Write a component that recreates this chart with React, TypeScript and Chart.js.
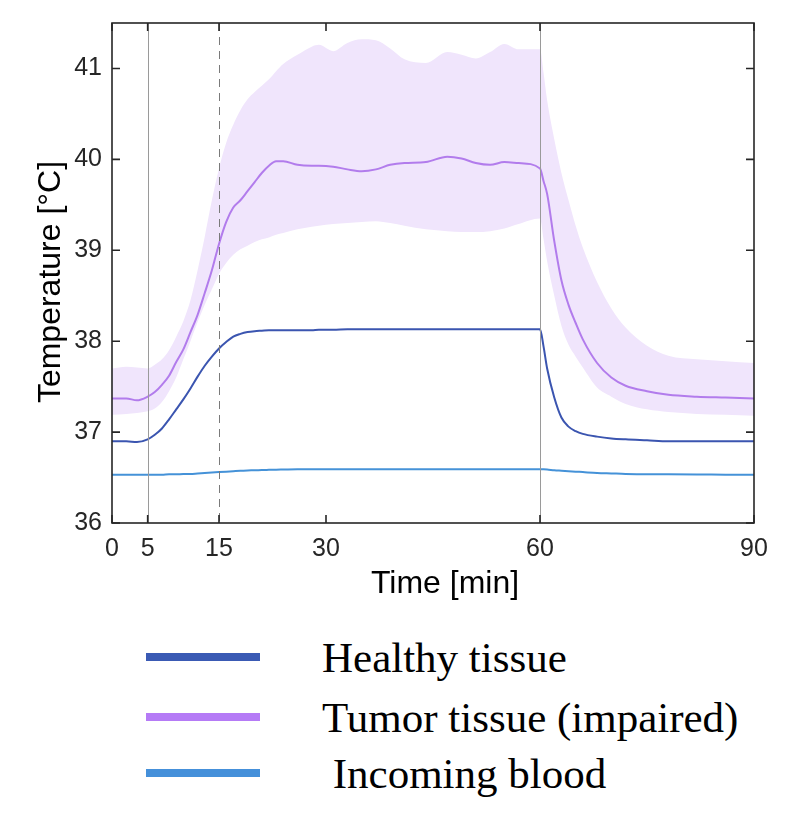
import { useEffect, useRef } from "react";
import { Chart, registerables } from "chart.js";

Chart.register(...registerables);

// time axis [min]
const timeMin = [
  0, 2, 3.5, 5, 6, 7, 8, 9, 10, 11, 12, 13, 14, 15, 16, 17, 18, 19, 20, 21, 22, 23, 24,
  26, 28, 29, 31, 33, 35, 37, 39, 41, 44, 47, 49, 51, 53, 55, 57, 60,
  60.5, 61, 62, 63, 64, 65, 66, 68, 70, 72, 75, 78, 82, 86, 90,
];

const healthyTissue = [
  36.9, 36.9, 36.89, 36.92, 36.97, 37.04, 37.14, 37.25, 37.36, 37.48, 37.61, 37.73, 37.83, 37.92,
  37.99, 38.05, 38.08, 38.1, 38.11, 38.115, 38.12, 38.12, 38.12,
  38.12, 38.12, 38.125, 38.125, 38.13, 38.13, 38.13, 38.13, 38.13, 38.13, 38.13, 38.13, 38.13,
  38.13, 38.13, 38.13, 38.13,
  37.94, 37.7, 37.38, 37.16, 37.06, 37.01, 36.98, 36.95, 36.93, 36.92, 36.91, 36.9, 36.9, 36.9, 36.9,
];

const tumorMean = [
  37.37, 37.37, 37.35, 37.39, 37.44, 37.52, 37.62, 37.77, 37.91, 38.1, 38.29, 38.53, 38.78, 39.07,
  39.31, 39.47, 39.55, 39.65, 39.75, 39.85, 39.93, 39.98, 39.98,
  39.94, 39.93, 39.93, 39.92, 39.89, 39.87, 39.89, 39.94, 39.96, 39.97, 40.03, 40.01, 39.96,
  39.94, 39.97, 39.96, 39.9,
  39.76, 39.62, 39.1, 38.67, 38.4, 38.2, 38.02, 37.76, 37.6, 37.51, 37.45, 37.41, 37.39, 37.38, 37.37,
];

const tumorUpper = [
  37.7, 37.72, 37.71, 37.7, 37.74, 37.8, 37.9, 38.05, 38.22, 38.45, 38.78, 39.15, 39.55, 39.9,
  40.18, 40.38, 40.54, 40.66, 40.74, 40.81, 40.88, 40.97, 41.05,
  41.15, 41.24, 41.26, 41.19, 41.28, 41.32, 41.31, 41.22, 41.1, 41.06, 41.18, 41.15, 41.11,
  41.18, 41.27, 41.21, 41.21,
  40.95, 40.65, 40.22, 39.85, 39.55, 39.27, 39.03, 38.65, 38.36, 38.15, 37.95, 37.84, 37.8, 37.78, 37.76,
];

const tumorLower = [
  37.19, 37.2, 37.21, 37.23, 37.26, 37.33, 37.45, 37.6, 37.8, 38.0, 38.21, 38.4, 38.57, 38.74,
  38.86, 38.95, 39.01, 39.05, 39.09, 39.12, 39.14, 39.17, 39.19,
  39.23, 39.26, 39.27, 39.29, 39.3, 39.31, 39.32, 39.3, 39.27, 39.23, 39.21, 39.2, 39.2,
  39.21, 39.24, 39.29, 39.35,
  39.12, 38.88, 38.5, 38.17, 37.96, 37.83, 37.71, 37.49, 37.39, 37.31, 37.25, 37.22, 37.2, 37.19, 37.18,
];

const incomingBlood = [
  36.53, 36.53, 36.53, 36.53, 36.53, 36.53, 36.535, 36.535, 36.54, 36.54, 36.545, 36.55, 36.555, 36.56,
  36.565, 36.57, 36.575, 36.578, 36.58, 36.583, 36.585, 36.587, 36.588,
  36.59, 36.59, 36.59, 36.59, 36.59, 36.59, 36.59, 36.59, 36.59, 36.59, 36.59, 36.59, 36.59,
  36.59, 36.59, 36.59, 36.59,
  36.59, 36.588, 36.58, 36.575, 36.57, 36.565, 36.56, 36.55, 36.545, 36.54, 36.537, 36.535, 36.533, 36.532, 36.53,
];

const xTicks = [0, 5, 15, 30, 60, 90];
const yTicks = [36, 37, 38, 39, 40, 41];
const phaseLines = [5, 15, 60];
const dashedPhase = 15;
const xTitle = "Time [min]";
const yTitle = "Temperature [°C]";

const legendItems = [
  { label: "Healthy tissue", color: "#3a5ab4" },
  { label: "Tumor tissue (impaired)", color: "#b57bf6" },
  { label: " Incoming blood", color: "#4590da" },
];

const sansFont = "'Liberation Sans', Arial, Helvetica, sans-serif";
const serifFont = "'Liberation Serif', 'Times New Roman', serif";

const toPoints = (values: number[]) => timeMin.map((t, i) => ({ x: t, y: values[i] }));

// box, inward ticks, phase markers and axis titles, the MATLAB way
const framePlugin = {
  id: "frame",
  afterDatasetsDraw(chart: any) {
    const { ctx, chartArea: a, scales } = chart;
    const xs = scales.x;
    const ys = scales.y;
    ctx.save();
    ctx.lineWidth = 1;
    for (const t of phaseLines) {
      const px = Math.round(xs.getPixelForValue(t)) + 0.5;
      ctx.strokeStyle = t === dashedPhase ? "#7a7a7a" : "#9a9a9a";
      ctx.setLineDash(t === dashedPhase ? [8, 6] : []);
      ctx.beginPath();
      ctx.moveTo(px, a.top);
      ctx.lineTo(px, a.bottom);
      ctx.stroke();
    }
    ctx.setLineDash([]);
    ctx.strokeStyle = "#262626";
    ctx.lineWidth = 1.6;
    ctx.strokeRect(a.left, a.top, a.right - a.left, a.bottom - a.top);
    const tl = 8;
    ctx.beginPath();
    for (const t of xTicks) {
      const px = xs.getPixelForValue(t);
      ctx.moveTo(px, a.bottom);
      ctx.lineTo(px, a.bottom - tl);
      ctx.moveTo(px, a.top);
      ctx.lineTo(px, a.top + tl);
    }
    for (const v of yTicks) {
      const py = ys.getPixelForValue(v);
      ctx.moveTo(a.left, py);
      ctx.lineTo(a.left + tl, py);
      ctx.moveTo(a.right, py);
      ctx.lineTo(a.right - tl, py);
    }
    ctx.stroke();

    ctx.fillStyle = "#000";
    ctx.font = `32px ${sansFont}`;
    ctx.textAlign = "center";
    ctx.textBaseline = "middle";
    ctx.fillText(xTitle, (a.left + a.right) / 2 + 12, a.bottom + 61);
    ctx.translate(51, (a.top + a.bottom) / 2 + 9);
    ctx.rotate(-Math.PI / 2);
    ctx.fillText(yTitle, 0, 0);
    ctx.restore();
  },
};

function TemperatureChart() {
  const canvasRef = useRef<HTMLCanvasElement | null>(null);

  useEffect(() => {
    if (!canvasRef.current) return;

    const chart = new Chart(canvasRef.current, {
      type: "line",
      data: {
        datasets: [
          {
            label: "Incoming blood",
            data: toPoints(incomingBlood),
            borderColor: "#4592d8",
            borderWidth: 2,
            pointRadius: 0,
            fill: false,
          },
          {
            label: "Healthy tissue",
            data: toPoints(healthyTissue),
            borderColor: "#3b55b0",
            borderWidth: 2,
            pointRadius: 0,
            fill: false,
          },
          {
            label: "Tumor tissue (impaired)",
            data: toPoints(tumorMean),
            borderColor: "#b27cec",
            borderWidth: 2,
            pointRadius: 0,
            fill: false,
          },
          {
            label: "upper",
            data: toPoints(tumorUpper),
            borderWidth: 0,
            borderColor: "rgba(0,0,0,0)",
            backgroundColor: "#f0e5fc",
            pointRadius: 0,
            fill: "+1",
          },
          {
            label: "lower",
            data: toPoints(tumorLower),
            borderWidth: 0,
            borderColor: "rgba(0,0,0,0)",
            pointRadius: 0,
            fill: false,
          },
        ],
      },
      options: {
        responsive: false,
        animation: false,
        cubicInterpolationMode: "monotone",
        layout: { padding: { top: 23, right: 54, left: 0, bottom: 0 } },
        plugins: { legend: { display: false }, tooltip: { enabled: false } },
        scales: {
          x: {
            type: "linear",
            min: 0,
            max: 90,
            afterBuildTicks: (s: any) => {
              s.ticks = xTicks.map((v) => ({ value: v }));
            },
            afterFit: (s: any) => {
              s.height = 93;
              s.paddingLeft = 0;
              s.paddingRight = 0;
            },
            grid: { display: false, drawTicks: false },
            border: { display: false },
            ticks: {
              autoSkip: false,
              maxRotation: 0,
              padding: 11,
              color: "#262626",
              font: { family: sansFont, size: 25 },
            },
          },
          y: {
            type: "linear",
            min: 36,
            max: 41.5,
            afterBuildTicks: (s: any) => {
              s.ticks = yTicks.map((v) => ({ value: v }));
            },
            afterFit: (s: any) => {
              s.width = 112;
              s.paddingTop = 0;
              s.paddingBottom = 0;
            },
            grid: { display: false, drawTicks: false },
            border: { display: false },
            ticks: {
              padding: 10,
              color: "#262626",
              font: { family: sansFont, size: 25 },
            },
          },
        },
      } as any,
      plugins: [framePlugin],
    });

    return () => chart.destroy();
  }, []);

  return <canvas ref={canvasRef} width={808} height={616} style={{ display: "block" }} />;
}

const legendRows = [657, 717, 773];

export default function App() {
  useEffect(() => {
    document.body.style.margin = "0";
  }, []);

  return (
    <div style={{ position: "relative", width: 808, height: 816, background: "#fff" }}>
      <TemperatureChart />
      {legendItems.map((item, i) => (
        <div key={item.label}>
          <div
            style={{
              position: "absolute",
              left: 146,
              top: legendRows[i] - 4,
              width: 114,
              height: 8,
              background: item.color,
            }}
          />
          <div
            style={{
              position: "absolute",
              left: 322,
              top: legendRows[i] - 21.5,
              fontFamily: serifFont,
              fontSize: 43,
              lineHeight: "43px",
              whiteSpace: "pre",
              color: "#000",
            }}
          >
            {item.label}
          </div>
        </div>
      ))}
    </div>
  );
}
